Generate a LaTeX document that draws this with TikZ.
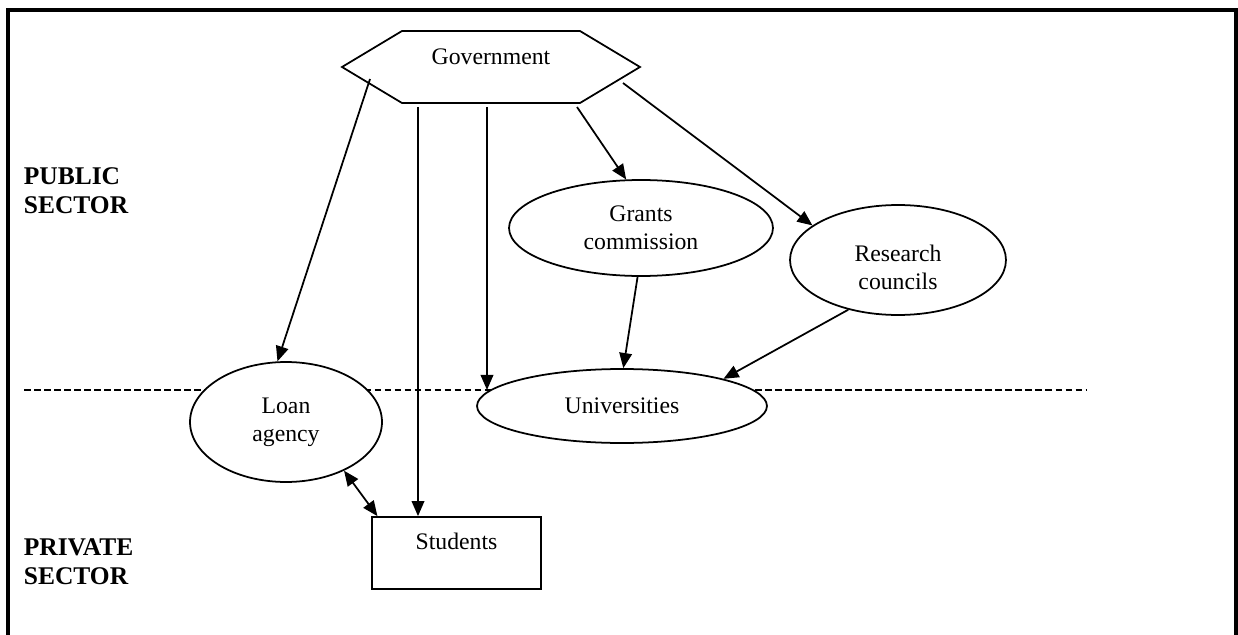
\documentclass[tikz,border=0pt]{standalone}
\usepackage{fontspec}
\setmainfont{Liberation Serif}
\usetikzlibrary{arrows.meta,shapes.geometric}

\begin{document}
\begin{tikzpicture}[x=0.02cm,y=-0.02cm,line width=1pt,
  >={Triangle[length=8.6pt,width=7.2pt]},
  font=\fontsize{13.5}{15.9}\selectfont,
  oval/.style={draw,ellipse,fill=white,inner sep=0pt,align=center},
  sector/.style={font=\fontsize{14.5}{16.4}\selectfont\bfseries,align=left,anchor=west,inner sep=0pt}]
  \useasboundingbox (0,0) rectangle (1238,635);
  % frame, open at the bottom
  \draw[line width=1.9pt] (8,640) -- (8,10) -- (1236,10) -- (1236,640);
  % public / private divide
  \coordinate (dl) at (24,390);
  \coordinate (dr) at (1087,390);
  \draw[dash pattern=on 3.8pt off 1.9pt] (dl) -- (dr);
  \node[sector] (pub) at (23,191) {PUBLIC\\SECTOR};
  \node[sector] (priv) at (23,562) {PRIVATE\\SECTOR};
  % government hexagon
  \draw (342,67) -- (402,31) -- (580,31) -- (640,67) -- (580,103) -- (402,103) -- cycle;
  \node (gov) at (491,57) {Government};
  \coordinate (g1) at (370,79);
  \coordinate (g2) at (418,107);
  \coordinate (g3) at (487,107);
  \coordinate (g4) at (577,107);
  \coordinate (g5) at (623,83);
  % bodies
  \node[oval,minimum width=5.28cm,minimum height=1.92cm] (grants) at (641,228) {Grants\\commission};
  \node[oval,minimum width=4.32cm,minimum height=2.2cm] (research) at (898,260) {};
  \node (rtext) at (898,267) [align=center] {Research\\councils};
  \node[oval,minimum width=5.8cm,minimum height=1.48cm] (univ) at (622,406) {Universities};
  \node[oval,minimum width=3.84cm,minimum height=2.4cm] (loan) at (286,422) {Loan\\agency};
  \node[draw,fill=white,minimum width=3.38cm,minimum height=1.44cm,text depth=0.48cm,inner sep=0pt] (students) at (456.5,553) {Students};
  % flows
  \draw[->] (g1) -- (loan.98);
  \draw[->] (g2) -- (g2 |- students.north);
  \draw[->] (g3) -- (g3 |- dl);
  \draw[->] (g4) -- (grants.107);
  \draw[->] (g5) -- (research.158);
  \draw[->] (grants.266) -- (univ.88);
  \draw[->] (research.225) -- (univ.15);
  \draw[<->] (loan.-40) -- (students.155);
\end{tikzpicture}
\end{document}
